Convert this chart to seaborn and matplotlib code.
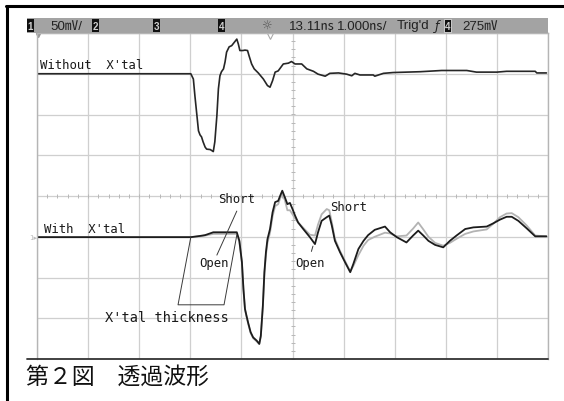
import numpy as np
import pandas as pd
import matplotlib
matplotlib.use("Agg")
import matplotlib.pyplot as plt
from matplotlib.lines import Line2D
from matplotlib.patches import Rectangle
from matplotlib import font_manager
import seaborn as sns

# ---------------- data (time in ns = divisions, level in divisions) ----------------
t_without = [0.00, 2.99, 3.01, 3.06, 3.09, 3.13, 3.16, 3.19, 3.22, 3.25, 3.29, 3.32, 3.39, 3.45,
             3.48, 3.52, 3.55, 3.58, 3.61, 3.65, 3.68, 3.71, 3.76, 3.81, 3.86, 3.91, 3.94, 3.97,
             4.03, 4.07, 4.12, 4.15, 4.20, 4.25, 4.33, 4.43, 4.51, 4.56, 4.61, 4.66, 4.72, 4.82,
             4.92, 4.98, 5.05, 5.18, 5.28, 5.41, 5.50, 5.64, 5.73, 5.90, 6.06, 6.16, 6.22, 6.32,
             6.58, 6.61, 6.78, 6.97, 7.50, 7.92, 8.41, 8.60, 9.00, 9.19, 9.75, 9.78, 9.97]
v_without = [3.00, 3.00, 3.00, 2.87, 2.46, 1.97, 1.60, 1.50, 1.45, 1.33, 1.20, 1.15, 1.14, 1.09,
             1.33, 1.97, 2.63, 2.95, 3.05, 3.12, 3.29, 3.53, 3.66, 3.69, 3.77, 3.85, 3.73, 3.57,
             3.57, 3.58, 3.57, 3.44, 3.24, 3.12, 3.02, 2.87, 2.71, 2.67, 2.83, 3.04, 3.07, 3.24,
             3.26, 3.30, 3.24, 3.24, 3.12, 3.06, 2.99, 2.94, 3.01, 3.02, 2.99, 2.95, 3.01, 2.97,
             2.97, 2.94, 3.01, 3.03, 3.05, 3.08, 3.08, 3.04, 3.04, 3.06, 3.06, 3.02, 3.02]

t_with = [0.00, 3.01, 3.19, 3.29, 3.45, 3.91, 3.96, 4.01, 4.04, 4.07, 4.10, 4.13, 4.18, 4.23,
          4.30, 4.35, 4.38, 4.42, 4.45, 4.48, 4.51, 4.56, 4.61, 4.66, 4.72, 4.76, 4.80, 4.85,
          4.90, 4.95, 5.00, 5.05, 5.11, 5.21, 5.34, 5.44, 5.50, 5.57, 5.67, 5.72, 5.77, 5.83,
          5.93, 6.03, 6.13, 6.19, 6.29, 6.39, 6.48, 6.61, 6.71, 6.81, 6.91, 7.04, 7.23, 7.36,
          7.46, 7.56, 7.66, 7.79, 7.95, 8.08, 8.21, 8.38, 8.54, 8.80, 8.93, 9.06, 9.19, 9.29,
          9.42, 9.58, 9.75, 9.97]
v_short = [-1.01, -1.01, -0.98, -0.96, -0.89, -0.89, -1.10, -1.62, -2.28, -2.77, -2.94, -3.10,
           -3.34, -3.47, -3.55, -3.63, -3.43, -2.69, -1.87, -1.38, -1.06, -0.81, -0.40, -0.15,
           -0.12, 0.01, 0.13, -0.03, -0.20, -0.17, -0.32, -0.48, -0.65, -0.81, -1.01, -1.18,
           -0.89, -0.61, -0.52, -0.48, -0.73, -1.10, -1.38, -1.63, -1.87, -1.67, -1.30, -1.10,
           -0.96, -0.83, -0.79, -0.75, -0.89, -1.01, -1.14, -0.97, -0.85, -0.97, -1.10, -1.20,
           -1.26, -1.10, -0.97, -0.81, -0.77, -0.75, -0.67, -0.58, -0.51, -0.51, -0.61, -0.79,
           -0.99, -0.99]
v_open = [-1.01, -1.01, -0.99, -0.97, -0.93, -0.93, -1.12, -1.64, -2.30, -2.79, -2.96, -3.12,
          -3.36, -3.49, -3.57, -3.63, -3.45, -2.72, -1.92, -1.45, -1.15, -0.90, -0.50, -0.25,
          -0.20, -0.05, 0.05, -0.10, -0.35, -0.35, -0.45, -0.55, -0.65, -0.78, -0.95, -0.97,
          -0.70, -0.45, -0.32, -0.35, -0.65, -1.05, -1.35, -1.60, -1.85, -1.72, -1.45, -1.22,
          -1.08, -1.00, -0.95, -0.90, -0.92, -0.99, -0.97, -0.80, -0.65, -0.82, -1.00, -1.15,
          -1.22, -1.15, -1.05, -0.93, -0.87, -0.82, -0.68, -0.52, -0.43, -0.42, -0.52, -0.72,
          -0.97, -0.99]

header_items = ["50㎷/", "13.11㎱", "1.000㎱/", "Trig'd", "275㎷"]
caption = "第２図　透過波形"

# ---------------- style ----------------
sns.set_style("white")
avail = {f.name for f in font_manager.fontManager.ttflist}
narrow = "Liberation Sans Narrow" if "Liberation Sans Narrow" in avail else "Liberation Sans"
plt.rcParams['font.family'] = ['DejaVu Sans', 'Noto Sans CJK JP']

W, H = 564, 402
fig = plt.figure(figsize=(W / 100, H / 100), dpi=100)
fig.patch.set_facecolor("white")

def fx(px):
    return px / W

def fy(py):
    return 1 - py / H

ax = fig.add_axes([fx(37), fy(360), fx(548) - fx(37), fy(34) - fy(360)])
ax.set_xlim(0, 10)
ax.set_ylim(-4, 4)
ax.set_xticks(range(0, 11))
ax.set_yticks(range(-4, 5))
ax.tick_params(length=0, labelbottom=False, labelleft=False)
ax.grid(True, color="#cfcfcf", lw=0.9)
for s in ax.spines.values():
    s.set_color("#b5b5b5")
    s.set_linewidth(1.0)
ax.spines["bottom"].set_visible(False)

# minor ticks on center graticule lines
mt = np.arange(0, 10.01, 0.2)
ax.plot(mt, np.zeros_like(mt), ls="none", marker="|", ms=3.5, mew=0.7, color="#b8b8b8")
mv = np.arange(-4, 4.01, 0.2)
ax.plot(np.full_like(mv, 5.0), mv, ls="none", marker="_", ms=3.5, mew=0.7, color="#b8b8b8")

# ---------------- traces ----------------
df_with = pd.DataFrame({
    "t": t_with * 2,
    "v": v_open + v_short,
    "case": ["Open"] * len(t_with) + ["Short"] * len(t_with),
})
sns.lineplot(data=df_with, x="t", y="v", hue="case", hue_order=["Open", "Short"],
             palette={"Open": "#b3b3b3", "Short": "#1c1c1c"}, estimator=None, sort=False,
             lw=1.3, legend=False, ax=ax)
df_without = pd.DataFrame({"t": t_without, "v": v_without})
sns.lineplot(data=df_without, x="t", y="v", color="#262626", lw=1.2, estimator=None,
             sort=False, legend=False, ax=ax)
ax.set_xlabel("")
ax.set_ylabel("")

# ---------------- annotations ----------------
mono = dict(family="DejaVu Sans Mono", fontsize=8.8, color="#1a1a1a", va="center", ha="left")
ax.text(0.06, 3.22, "Without  X'tal", **mono)
ax.text(0.14, -0.79, "With  X'tal", **mono)
ax.text(3.54, -0.06, "Short", **mono)
ax.text(3.18, -1.62, "Open", **mono)
ax.text(1.33, -2.97, "X'tal thickness", **dict(mono, fontsize=9.8))
ax.text(5.73, -0.25, "Short", **mono)
ax.text(5.06, -1.62, "Open", **mono)
ax.plot([3.91, 3.52], [-0.37, -1.45], color="#3a3a3a", lw=0.7)
ax.plot([5.40, 5.37], [-1.23, -1.36], color="#3a3a3a", lw=0.7)
ax.plot([3.01, 2.76, 3.66, 3.91], [-1.01, -2.67, -2.67, -0.96], color="#3a3a3a", lw=0.7)

# trigger marker
ax.plot([4.56], [3.93], marker="v", ms=5, mfc="white", mec="#aaaaaa", mew=0.8, clip_on=False)
ax.plot([0.02], [3.95], marker="v", ms=3, color="#999999", clip_on=False)
fig.text(fx(29), fy(238), "1▸", fontsize=5, color="#bbbbbb", va="center", ha="left")

# ---------------- header bar ----------------
fig.add_artist(Rectangle((fx(27), fy(34)), fx(548) - fx(27), fy(19) - fy(34),
                         transform=fig.transFigure, facecolor="#a3a3a3", edgecolor="none"))
box_pos = [(27, "1"), (92, "2"), (153, "3"), (218, "4"), (444, "4")]
for bx, lab in box_pos:
    fig.add_artist(Rectangle((fx(bx), fy(33)), fx(7), fy(20) - fy(33),
                             transform=fig.transFigure, facecolor="#111111",
                             edgecolor="#dddddd" if bx == 444 else "none", lw=0.6))
    fig.text(fx(bx + 3.5), fy(26.5), lab, fontsize=7, color="#d0d0d0", ha="center",
             va="center", family=narrow, weight="bold")
hdr = dict(fontsize=9.6, color="#222222", va="center", ha="left",
           family=[narrow, "Noto Sans CJK JP", "DejaVu Sans"])
for xpos, txt in zip([50, 289, 337, 397, 462], header_items):
    fig.text(fx(xpos), fy(26.5), txt, **hdr)
fig.text(fx(266), fy(26.5), "☼", fontsize=8.5, color="#555555", ha="center", va="center")
fig.text(fx(437), fy(26.5), "ƒ", fontsize=9, color="#222222", ha="center", va="center",
         style="italic")

# ---------------- frame lines ----------------
fig.add_artist(Line2D([fx(6.5), fx(6.5)], [0, fy(6.5)], transform=fig.transFigure,
                      color="black", lw=2.2))
fig.add_artist(Line2D([fx(5.5), 1], [fy(6.5), fy(6.5)], transform=fig.transFigure,
                      color="black", lw=2.2))
fig.add_artist(Line2D([fx(27), fx(548)], [fy(360), fy(360)], transform=fig.transFigure,
                      color="#333333", lw=1.3))

# caption
fig.text(fx(26), fy(377), caption, fontsize=16.5, color="#111111", ha="left", va="center",
         family=["Noto Sans CJK JP", "DejaVu Sans"])

fig.savefig("out.png", dpi=100, facecolor="white")
